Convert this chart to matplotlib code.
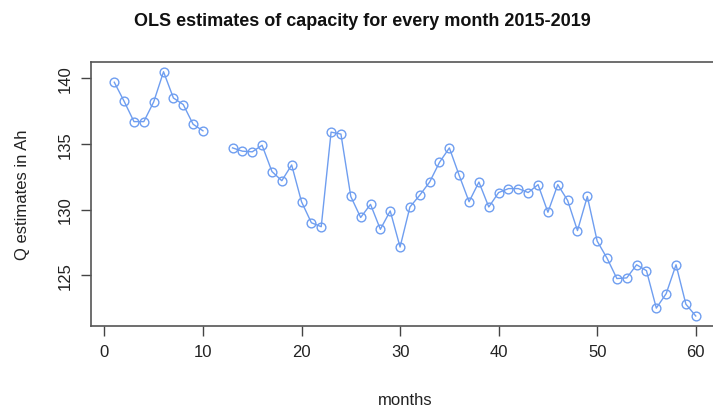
import numpy as np
import matplotlib.pyplot as plt

plt.rcParams['font.family'] = ['Liberation Sans', 'DejaVu Sans']

# monthly capacity estimates (Ah); months 11 and 12 have no estimate
months = np.arange(1, 61)
q_est = [139.7, 138.25, 136.7, 136.7, 138.2, 140.5, 138.5, 138.0, 136.5, 136.0,
         np.nan, np.nan, 134.7, 134.45, 134.4, 134.9, 132.9, 132.2, 133.4, 130.6,
         129.0, 128.7, 135.9, 135.75, 131.0, 129.4, 130.4, 128.5, 129.9, 127.15,
         130.2, 131.1, 132.1, 133.6, 134.7, 132.6, 130.6, 132.1, 130.2, 131.3,
         131.6, 131.6, 131.3, 131.9, 129.8, 131.9, 130.7, 128.4, 131.0, 127.6,
         126.3, 124.75, 124.8, 125.8, 125.35, 122.5, 123.6, 125.8, 122.8, 121.9]
xticks = [0, 10, 20, 30, 40, 50, 60]
yticks = [125, 130, 135, 140]

fig = plt.figure(figsize=(7.13, 4.10), dpi=100)
ax = fig.add_axes([91/713, 83.3/410, 628/713, 263.7/410])

ax.plot(months, q_est, color='#6f9ef0', lw=1.0, marker='o', ms=6.3,
        mfc='none', mec='#6f9ef0', mew=1.0)

ax.set_xlim(-1.36, 62.36)
ax.set_ylim(121.16, 141.24)
ax.set_xticks(xticks)
ax.set_yticks(yticks)
ax.set_yticklabels([str(v) for v in yticks], rotation=90, va='center')
ax.tick_params(direction='out', length=7, width=1, color='#444444',
               labelsize=12, pad=6, labelcolor='#222222')
for s in ax.spines.values():
    s.set_color('#555555')
    s.set_linewidth(1.2)

ax.set_xlabel('months', fontsize=12, labelpad=24, color='#222222')
ax.set_ylabel('Q estimates in Ah', fontsize=12, labelpad=20, color='#222222')
fig.text(362/713, 1 - 22/410, 'OLS estimates of capacity for every month 2015-2019',
         ha='center', va='center', fontsize=13, fontweight='bold', color='#111111')

fig.savefig('out.png', dpi=100)
